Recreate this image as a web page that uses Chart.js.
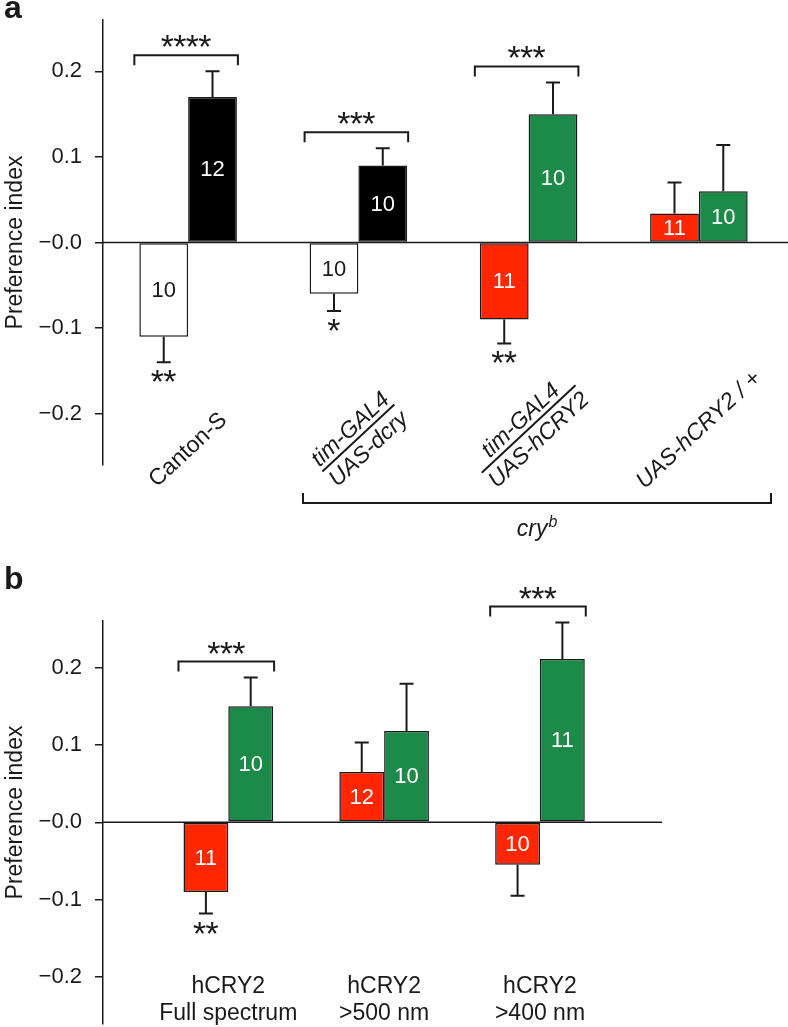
<!DOCTYPE html>
<html>
<head>
<meta charset="utf-8">
<script src="https://cdn.jsdelivr.net/npm/chart.js@4.4.1/dist/chart.umd.min.js"></script>
<style>
  body { margin: 0; background: #fff; overflow: hidden; }
  canvas { position: absolute; left: 0; }
  #chartA { top: 0; }
  #chartB { top: 560px; }
</style>
</head>
<body>
<canvas id="chartA" width="788" height="560"></canvas>
<canvas id="chartB" width="788" height="467"></canvas>
<script>
const FONT = '"Liberation Sans", Arial, Helvetica, sans-serif';
const INK = '#1a1a1a';
const RED = '#ff2600';
const GREEN = '#1c8a48';

// y axis (same for both panels)
const yTickValues = [-0.2, -0.1, 0, 0.1, 0.2];
const yTickLabels = ['\u22120.2', '\u22120.1', '\u22120.0', '0.1', '0.2'];

// panel a
const aGroups = [['Canton-S'], ['tim-GAL4', 'UAS-dcry'], ['tim-GAL4', 'UAS-hCRY2'], ['UAS-hCRY2 / +']];
const aLeftValues = [-0.11, -0.06, -0.09, 0.034];
const aLeftErrors = [0.03, 0.02, 0.028, 0.036];
const aLeftN = [10, 10, 11, 11];
const aLeftStars = ['**', '*', '**', ''];
const aRightValues = [0.17, 0.09, 0.15, 0.06];
const aRightErrors = [0.03, 0.02, 0.037, 0.054];
const aRightN = [12, 10, 10, 10];
const aPairStars = ['****', '***', '***', ''];

// panel b
const bGroups = [['hCRY2', 'Full spectrum'], ['hCRY2', '>500 nm'], ['hCRY2', '>400 nm']];
const bRedValues = [-0.09, 0.065, -0.055];
const bRedErrors = [0.028, 0.038, 0.04];
const bRedN = [11, 12, 10];
const bRedStars = ['**', '', ''];
const bGreenValues = [0.15, 0.118, 0.211];
const bGreenErrors = [0.037, 0.061, 0.047];
const bGreenN = [10, 10, 11];
const bPairStars = ['***', '', '***'];

function drawStars(ctx, text, cx, cy) {
  if (!text) return;
  ctx.font = '34px ' + FONT;
  ctx.textAlign = 'center';
  ctx.textBaseline = 'alphabetic';
  const m = ctx.measureText('*');
  const base = cy + (m.actualBoundingBoxAscent - m.actualBoundingBoxDescent) / 2;
  for (let k = 0; k < text.length; k++) {
    ctx.fillText('*', cx + (k - (text.length - 1) / 2) * 12.5, base);
  }
}

// zero line, error bars, n counts, brackets, labels
const decor = {
  id: 'decor',
  beforeDatasetsDraw(chart, args, o) {
    const { ctx, chartArea } = chart;
    const y0 = chart.scales.y.getPixelForValue(0);
    ctx.save();
    ctx.strokeStyle = INK;
    ctx.lineWidth = 1.5;
    ctx.beginPath();
    ctx.moveTo(chartArea.left, y0);
    ctx.lineTo(o.zeroToEdge ? chart.width : chartArea.right, y0);
    ctx.stroke();
    ctx.restore();
  },
  afterDatasetsDraw(chart, args, o) {
    const { ctx } = chart;
    const yScale = chart.scales.y;
    const ends = [];
    ctx.save();
    ctx.strokeStyle = INK;
    ctx.fillStyle = INK;
    chart.data.datasets.forEach((ds, di) => {
      const meta = chart.getDatasetMeta(di);
      ends[di] = [];
      meta.data.forEach((bar, i) => {
        const v = meta.controller.getParsed(i).y;
        const sign = v >= 0 ? 1 : -1;
        const ye = yScale.getPixelForValue(v + sign * ds.errors[i]);
        ends[di][i] = ye;
        ctx.lineWidth = 2;
        ctx.beginPath();
        ctx.moveTo(bar.x, bar.y);
        ctx.lineTo(bar.x, ye);
        ctx.moveTo(bar.x - 7, ye);
        ctx.lineTo(bar.x + 7, ye);
        ctx.stroke();
        // n inside the bar
        ctx.font = '22px ' + FONT;
        ctx.textAlign = 'center';
        ctx.textBaseline = 'middle';
        ctx.fillStyle = ds.textColors[i];
        ctx.fillText(String(ds.counts[i]), bar.x, (bar.y + bar.base) / 2 + 1);
        ctx.fillStyle = INK;
        if (sign < 0) drawStars(ctx, ds.stars[i], bar.x, ye + 14);
      });
    });
    // brackets between the two bars of a group
    const left = chart.getDatasetMeta(0).data;
    const right = chart.getDatasetMeta(1).data;
    o.pairStars.forEach((s, i) => {
      if (!s) return;
      const top = Math.min(ends[0][i], ends[1][i], left[i].y, right[i].y);
      const yb = top - 16;
      const xL = left[i].x - left[i].width / 2 - 5;
      const xR = right[i].x + right[i].width / 2 + 1;
      ctx.lineWidth = 2;
      ctx.beginPath();
      ctx.moveTo(xL, yb + 10);
      ctx.lineTo(xL, yb);
      ctx.lineTo(xR, yb);
      ctx.lineTo(xR, yb + 10);
      ctx.stroke();
      drawStars(ctx, s, (xL + xR) / 2, yb - 14);
    });
    ctx.restore();
  },
  afterDraw(chart, args, o) {
    const { ctx } = chart;
    const xScale = chart.scales.x;
    ctx.save();
    ctx.fillStyle = INK;
    ctx.strokeStyle = INK;

    // panel letter
    ctx.font = 'bold 32px ' + FONT;
    ctx.textAlign = 'left';
    ctx.textBaseline = 'alphabetic';
    ctx.fillText(o.letter, 4, o.letterY);

    // y title
    ctx.save();
    ctx.translate(21.5, o.titleY);
    ctx.rotate(-Math.PI / 2);
    ctx.font = '23px ' + FONT;
    ctx.textAlign = 'center';
    ctx.fillText('Preference index', 0, 0);
    ctx.restore();

    // category labels
    o.groups.forEach((g, i) => {
      const cx = xScale.getPixelForValue(o.linearX ? i + 1 : i);
      if (o.rotated) {
        ctx.save();
        ctx.translate(cx, o.labelY[i]);
        ctx.rotate(-43 * Math.PI / 180);
        ctx.font = (o.italic[i] ? 'italic ' : '') + '23px ' + FONT;
        ctx.textAlign = 'center';
        if (g.length === 1) {
          ctx.textBaseline = 'middle';
          ctx.fillText(g[0], 0, 0);
        } else {
          const w = ctx.measureText(g[1]).width;
          ctx.lineWidth = 2;
          ctx.beginPath();
          ctx.moveTo(-w / 2, 0);
          ctx.lineTo(w / 2, 0);
          ctx.stroke();
          ctx.textBaseline = 'alphabetic';
          ctx.fillText(g[0], 0, -5);
          ctx.textBaseline = 'top';
          ctx.fillText(g[1], 0, 4);
        }
        ctx.restore();
      } else {
        ctx.font = '23px ' + FONT;
        ctx.textAlign = 'center';
        ctx.textBaseline = 'middle';
        g.forEach((line, k) => ctx.fillText(line, cx, o.labelY[0] + k * 26.6));
      }
    });

    // cry^b bracket under the mutant genotypes
    if (o.groupBracket) {
      const gb = o.groupBracket;
      ctx.lineWidth = 2;
      ctx.beginPath();
      ctx.moveTo(gb.x1, gb.y - 10);
      ctx.lineTo(gb.x1, gb.y);
      ctx.lineTo(gb.x2, gb.y);
      ctx.lineTo(gb.x2, gb.y - 10);
      ctx.stroke();
      ctx.font = 'italic 23px ' + FONT;
      const w1 = ctx.measureText('cry').width;
      ctx.font = 'italic 16px ' + FONT;
      const w2 = ctx.measureText('b').width;
      const xs = (gb.x1 + gb.x2) / 2 - (w1 + w2 + 1) / 2;
      ctx.textAlign = 'left';
      ctx.textBaseline = 'alphabetic';
      ctx.font = 'italic 23px ' + FONT;
      ctx.fillText('cry', xs, gb.y + 33);
      ctx.font = 'italic 16px ' + FONT;
      ctx.fillText('b', xs + w1 + 1, gb.y + 24);
    }
    ctx.restore();
  }
};

function yAxis() {
  return {
    min: -0.26,
    max: 0.26,
    afterBuildTicks: s => { s.ticks = yTickValues.map(v => ({ value: v })); },
    afterFit: s => { s.width = 103; s.paddingTop = 0; s.paddingBottom = 0; },
    ticks: {
      callback: (v, i) => yTickLabels[i],
      font: { family: FONT, size: 22 },
      color: INK,
      padding: 13
    },
    grid: { drawOnChartArea: false, drawTicks: true, tickLength: 8, color: INK, lineWidth: 1.5 },
    border: { color: INK, width: 1.5 }
  };
}

const barStyle = {
  borderColor: INK,
  borderWidth: 1.5,
  borderSkipped: false,
  barPercentage: 1
};

new Chart(document.getElementById('chartA'), {
  type: 'bar',
  data: {
    labels: aGroups.map(g => g.join('/')),
    datasets: [
      Object.assign({
        data: aLeftValues, errors: aLeftErrors, counts: aLeftN, stars: aLeftStars,
        backgroundColor: ['#ffffff', '#ffffff', RED, RED],
        textColors: [INK, INK, '#ffffff', '#ffffff'],
        categoryPercentage: 0.573
      }, barStyle),
      Object.assign({
        data: aRightValues, errors: aRightErrors, counts: aRightN, stars: ['', '', '', ''],
        backgroundColor: ['#000000', '#000000', GREEN, GREEN],
        textColors: ['#ffffff', '#ffffff', '#ffffff', '#ffffff'],
        categoryPercentage: 0.573
      }, barStyle)
    ]
  },
  options: {
    responsive: false,
    animation: false,
    events: [],
    layout: { padding: { top: 20, bottom: 95, left: 0, right: 4 } },
    scales: {
      x: { display: false },
      y: yAxis()
    },
    plugins: {
      legend: { display: false },
      tooltip: { enabled: false },
      decor: {
        letter: 'a', letterY: 18, titleY: 242.5,
        zeroToEdge: true,
        pairStars: aPairStars,
        groups: aGroups,
        rotated: true,
        italic: [false, true, true, true],
        labelY: [450, 438, 429, 430],
        groupBracket: { x1: 303, x2: 771, y: 503 }
      }
    }
  },
  plugins: [decor]
});

new Chart(document.getElementById('chartB'), {
  type: 'bar',
  data: {
    datasets: [
      Object.assign({
        data: bRedValues.map((v, i) => ({ x: i + 1, y: v })),
        errors: bRedErrors, counts: bRedN, stars: bRedStars,
        backgroundColor: RED,
        textColors: ['#ffffff', '#ffffff', '#ffffff'],
        categoryPercentage: 0.575
      }, barStyle),
      Object.assign({
        data: bGreenValues.map((v, i) => ({ x: i + 1, y: v })),
        errors: bGreenErrors, counts: bGreenN, stars: ['', '', ''],
        backgroundColor: GREEN,
        textColors: ['#ffffff', '#ffffff', '#ffffff'],
        categoryPercentage: 0.575
      }, barStyle)
    ]
  },
  options: {
    responsive: false,
    animation: false,
    events: [],
    layout: { padding: { top: 61, bottom: 3.5, left: 0, right: 126 } },
    scales: {
      x: {
        type: 'linear',
        display: false,
        offset: false,
        min: 0.196,
        max: 3.783,
        afterBuildTicks: s => { s.ticks = bGroups.map((g, i) => ({ value: i + 1 })); }
      },
      y: yAxis()
    },
    plugins: {
      legend: { display: false },
      tooltip: { enabled: false },
      decor: {
        letter: 'b', letterY: 29, titleY: 252.5,
        zeroToEdge: false,
        pairStars: bPairStars,
        groups: bGroups,
        linearX: true,
        rotated: false,
        labelY: [426.7]
      }
    }
  },
  plugins: [decor]
});
</script>
</body>
</html>
